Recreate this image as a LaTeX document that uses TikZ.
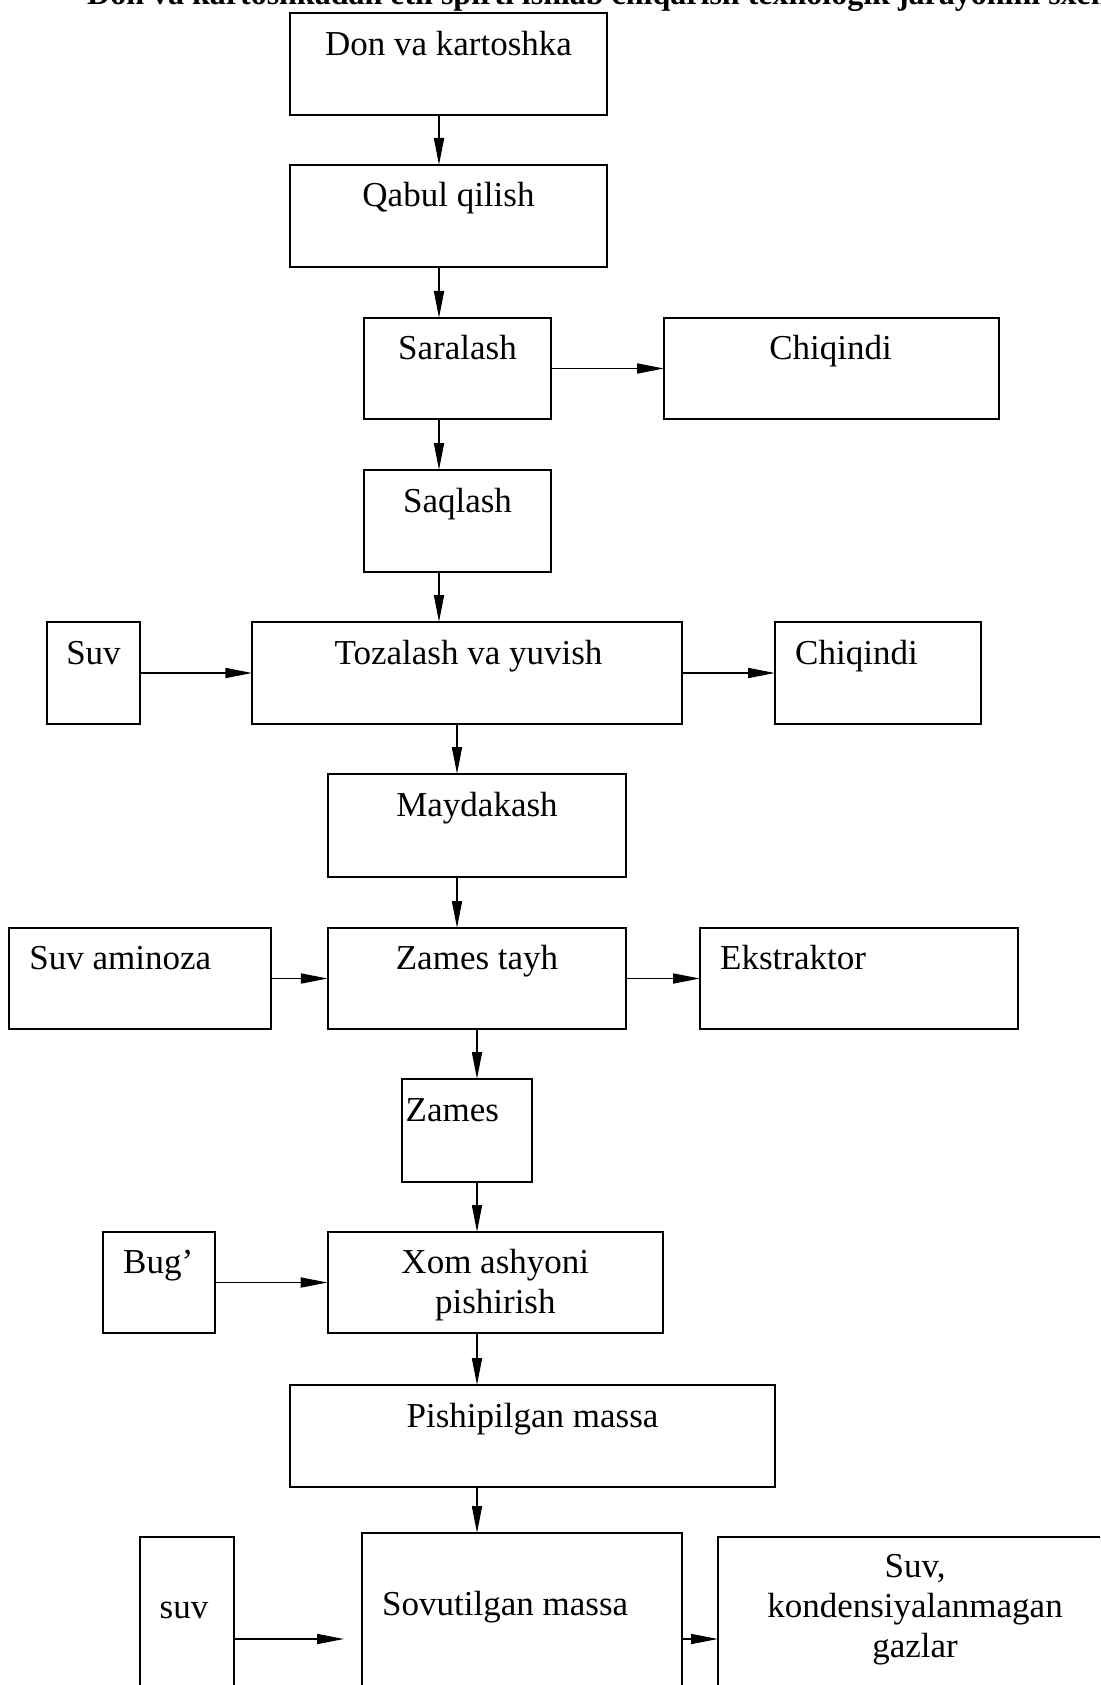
\documentclass[tikz,border=0pt]{standalone}
\usepackage{fontspec}
\setmainfont{Liberation Serif}
\usetikzlibrary{arrows.meta,calc}
\begin{document}
\begin{tikzpicture}[x=1pt,y=-1pt,
  box/.style={draw, line width=1.8pt, inner sep=0pt, outer sep=0pt},
  txt/.style={inner sep=0pt, font=\fontsize{35}{40}\selectfont, anchor=base},
  txtw/.style={inner sep=0pt, font=\fontsize{35}{40}\selectfont, anchor=base west},
  arr/.style={line width=1.7pt, -{Triangle[length=27pt,width=10pt]}},
]
\clip (0,0) rectangle (1100,1685);
\fill[white] (0,0) rectangle (1100,1685);

% title
\node[anchor=base west, inner sep=0pt, font=\bfseries\fontsize{32}{38}\selectfont] (title) at (87,4.5)
  {Don va kartoshkadan etil spirti ishlab chiqarish texnologik jarayonini sxemasi};

% boxes
\node[box, minimum width=317pt, minimum height=102pt] (don) at (448.5,64) {};
\node[box, minimum width=317pt, minimum height=102pt] (qabul) at (448.5,216) {};
\node[box, minimum width=187pt, minimum height=101pt] (saralash) at (457.5,368.5) {};
\node[box, minimum width=335pt, minimum height=101pt] (chiq1) at (831.5,368.5) {};
\node[box, minimum width=187pt, minimum height=102pt] (saqlash) at (457.5,521) {};
\node[box, minimum width=93pt, minimum height=102pt] (suv1) at (93.5,673) {};
\node[box, minimum width=429.5pt, minimum height=102pt] (toz) at (467,673) {};
\node[box, minimum width=206pt, minimum height=102pt] (chiq2) at (878,673) {};
\node[box, minimum width=298.4pt, minimum height=103pt] (mayda) at (477,825.5) {};
\node[box, minimum width=262.5pt, minimum height=101pt] (suvam) at (140,978.5) {};
\node[box, minimum width=298.4pt, minimum height=101pt] (zt) at (477,978.5) {};
\node[box, minimum width=318pt, minimum height=101pt] (ekstr) at (859,978.5) {};
\node[box, minimum width=130pt, minimum height=103pt] (zames) at (467,1130.5) {};
\node[box, minimum width=112pt, minimum height=101pt] (bug) at (159,1282.5) {};
\node[box, minimum width=335.4pt, minimum height=101pt] (xom) at (495.3,1282.5) {};
\node[box, minimum width=485pt, minimum height=102pt] (pish) at (532.5,1436) {};
\node[box, minimum width=94pt, minimum height=204pt] (suv2) at (187,1639) {};
\node[box, minimum width=320pt, minimum height=212pt] (sov) at (522,1639) {};
\node[box, minimum width=394pt, minimum height=204pt] (suvk) at (915,1639) {};

% texts
\node[txt] (tdon) at ($(don.north)+(0,42.3)$) {Don va kartoshka};
\node[txt] (tqabul) at ($(qabul.north)+(0,42)$) {Qabul qilish};
\node[txt] (tsaralash) at ($(saralash.north)+(0,41)$) {Saralash};
\node[txt] (tchiq1) at ($(chiq1.north)+(-1,41)$) {Chiqindi};
\node[txt] (tsaqlash) at ($(saqlash.north)+(0,42)$) {Saqlash};
\node[txt] (tsuv1) at ($(suv1.north)+(0,42)$) {Suv};
\node[txt] (ttoz) at ($(toz.north)+(1.5,42)$) {Tozalash va yuvish};
\node[txtw] (tchiq2) at ($(chiq2.north west)+(20,42)$) {Chiqindi};
\node[txt] (tmayda) at ($(mayda.north)+(0,42)$) {Maydakash};
\node[txtw] (tsuvam) at ($(suvam.north west)+(20.5,41)$) {Suv aminoza};
\node[txt] (tzt) at ($(zt.north)+(0,41)$) {Zames tayh};
\node[txtw] (tekstr) at ($(ekstr.north west)+(20,41)$) {Ekstraktor};
\node[txtw] (tzames) at ($(zames.north west)+(3.5,42)$) {Zames};
\node[txtw] (tbug) at ($(bug.north west)+(20,41)$) {Bug’};
\node[txt] (txom1) at ($(xom.north)+(0,41)$) {Xom ashyoni};
\node[txt] (txom2) at ($(xom.north)+(0,81)$) {pishirish};
\node[txt] (tpish) at ($(pish.north)+(0,42)$) {Pishipilgan massa};
\node[txt] (tsuv2) at ($(suv2.north)+(-3,81)$) {suv};
\node[txtw] (tsov) at ($(sov.north west)+(20,82)$) {Sovutilgan massa};
\node[txt] (tsuvk1) at ($(suvk.north)+(0,40)$) {Suv,};
\node[txt] (tsuvk2) at ($(suvk.north)+(0,80)$) {kondensiyalanmagan};
\node[txt] (tsuvk3) at ($(suvk.north)+(0,120)$) {gazlar};

% connector columns
\coordinate (xa) at (439,0);
\coordinate (xb) at (457,0);
\coordinate (xc) at (477,0);

% connectors
\draw[arr] (don.south -| xa) -- (qabul.north -| xa);
\draw[arr] (qabul.south -| xa) -- (saralash.north -| xa);
\draw[arr] (saralash.east) -- (chiq1.west);
\draw[arr] (saralash.south -| xa) -- (saqlash.north -| xa);
\draw[arr] (saqlash.south -| xa) -- (toz.north -| xa);
\draw[arr] (suv1.east) -- (toz.west);
\draw[arr] (toz.east) -- (chiq2.west);
\draw[arr] (toz.south -| xb) -- (mayda.north -| xb);
\draw[arr] (mayda.south -| xb) -- (zt.north -| xb);
\draw[arr] (suvam.east) -- (zt.west);
\draw[arr] (zt.east) -- (ekstr.west);
\draw[arr] (zt.south -| xc) -- (zames.north -| xc);
\draw[arr] (zames.south -| xc) -- (xom.north -| xc);
\draw[arr] (bug.east) -- (xom.west);
\draw[arr] (xom.south -| xc) -- (pish.north -| xc);
\draw[arr] (pish.south -| xc) -- (sov.north -| xc);
\draw[arr] (suv2.east) -- ([xshift=-18pt]sov.west);
\draw[arr] (sov.east) -- (suvk.west);
\end{tikzpicture}
\end{document}
